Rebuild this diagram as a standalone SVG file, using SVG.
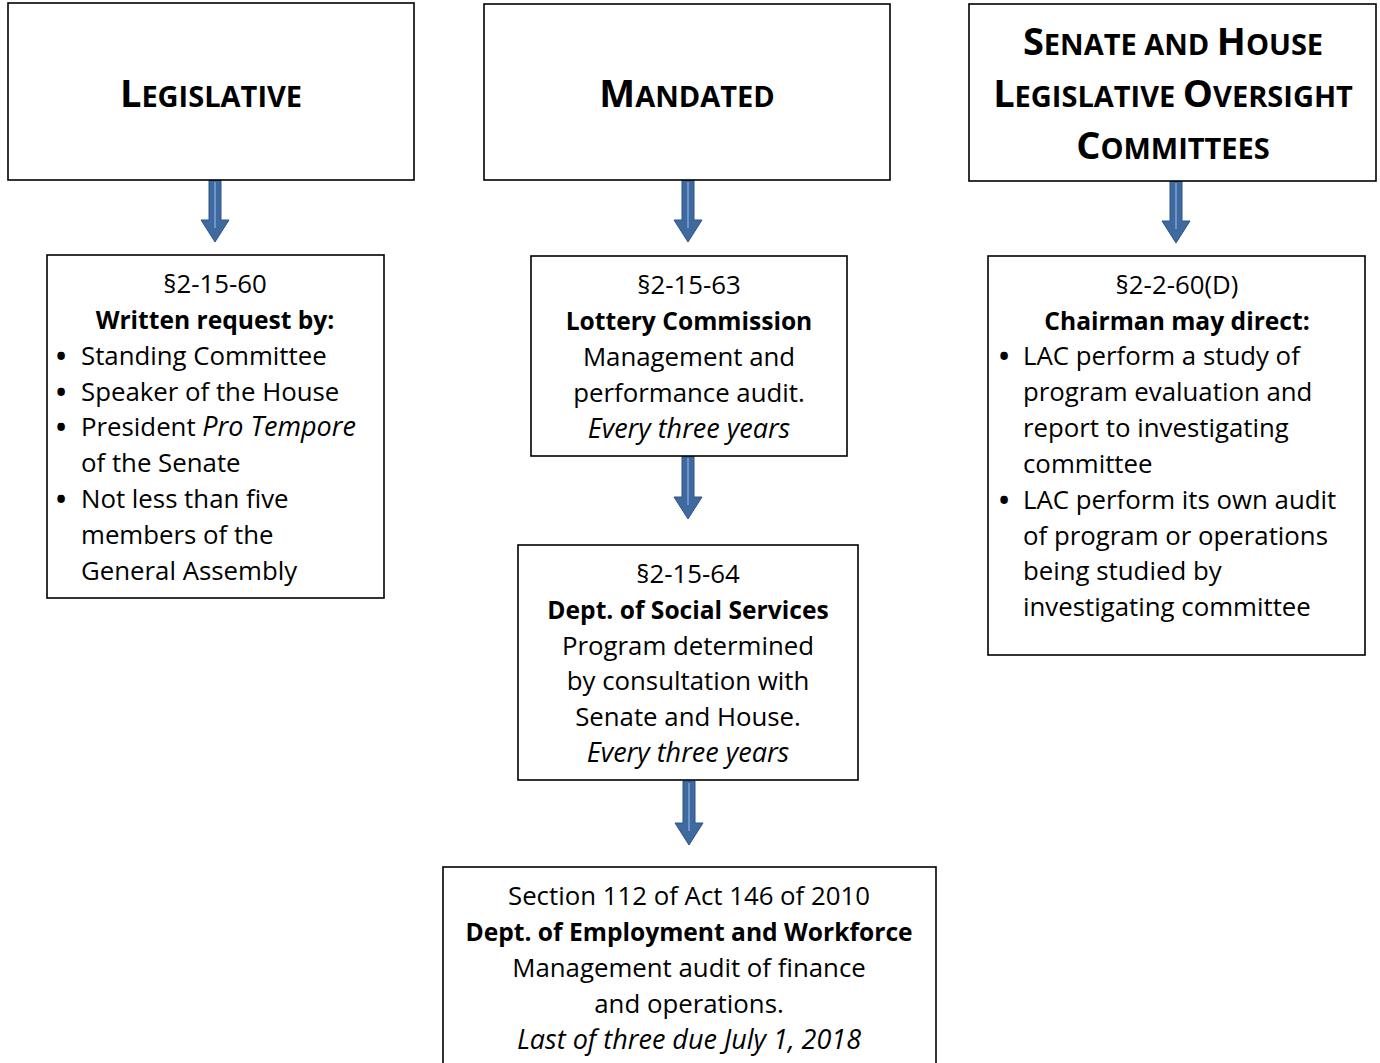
<svg xmlns="http://www.w3.org/2000/svg" width="1380" height="1063" viewBox="0 0 1380 1063">
<style>
.box{fill:#fff;stroke:#000;stroke-width:1.6}
text{font-family:"Open Sans","Liberation Sans",sans-serif;fill:#000}
.t{font-weight:bold;text-anchor:middle}
.big{font-size:38px}
.sm{font-size:29px}
.b{font-size:25.8px}
.c{text-anchor:middle}
.bo{font-weight:bold;font-size:24.6px}
.i{font-style:italic;font-size:27px}
.bu{font-size:27px;font-weight:bold}
.arrow{fill:#3f6aa0;stroke:#2f5485;stroke-width:1}
.hl{stroke:#6f95c8;stroke-width:2}
</style>
<rect width="1380" height="1063" fill="#fff"/>
<g id="connectors">
<g><path class="arrow" d="M209,180 H221 V220 H229 L215,242 L201,220 H209 Z"/><line class="hl" x1="215" y1="182" x2="215" y2="228"/></g>
<g><path class="arrow" d="M682,180 H694 V220 H702 L688,242 L674,220 H682 Z"/><line class="hl" x1="688" y1="182" x2="688" y2="228"/></g>
<g><path class="arrow" d="M1170,181 H1182 V221 H1190 L1176,243 L1162,221 H1170 Z"/><line class="hl" x1="1176" y1="183" x2="1176" y2="229"/></g>
<g><path class="arrow" d="M682,456 H694 V497 H702 L688,519 L674,497 H682 Z"/><line class="hl" x1="688" y1="458" x2="688" y2="505"/></g>
<g><path class="arrow" d="M683,781 H695 V823 H703 L689,845 L675,823 H683 Z"/><line class="hl" x1="689" y1="783" x2="689" y2="831"/></g>
</g>
<g id="legislative">
<rect class="box" x="8" y="3" width="406" height="177"/>
<text class="t" x="211" y="107"><tspan class="big">L</tspan><tspan class="sm">EGISLATIVE</tspan></text>
</g>
<g id="mandated">
<rect class="box" x="484" y="4" width="406" height="176"/>
<text class="t" x="687" y="107"><tspan class="big">M</tspan><tspan class="sm">ANDATED</tspan></text>
</g>
<g id="oversight">
<rect class="box" x="969" y="4" width="407" height="177"/>
<text class="t" x="1173" y="55"><tspan class="big">S</tspan><tspan class="sm">ENATE AND </tspan><tspan class="big">H</tspan><tspan class="sm">OUSE</tspan></text>
<text class="t" x="1173" y="107"><tspan class="big">L</tspan><tspan class="sm">EGISLATIVE </tspan><tspan class="big">O</tspan><tspan class="sm">VERSIGHT</tspan></text>
<text class="t" x="1173" y="159"><tspan class="big">C</tspan><tspan class="sm">OMMITTEES</tspan></text>
</g>
<g id="s2-15-60">
<rect class="box" x="47" y="255" width="337" height="343"/>
<text class="b c" x="215" y="293">§2-15-60</text>
<text class="b c bo" x="215" y="329">Written request by:</text>
<g class="b">
<text class="bu" x="56" y="366">•</text><text x="81" y="365">Standing Committee</text>
<text class="bu" x="56" y="402">•</text><text x="81" y="401">Speaker of the House</text>
<text class="bu" x="56" y="437">•</text><text x="81" y="436">President <tspan class="i">Pro Tempore</tspan></text>
<text x="81" y="472">of the Senate</text>
<text class="bu" x="56" y="509">•</text><text x="81" y="508">Not less than five</text>
<text x="81" y="544">members of the</text>
<text x="81" y="580">General Assembly</text>
</g>
</g>
<g id="s2-15-63">
<rect class="box" x="531" y="256" width="316" height="200"/>
<text class="b c" x="689" y="294">§2-15-63</text>
<text class="b c bo" x="689" y="330">Lottery Commission</text>
<text class="b c" x="689" y="366">Management and</text>
<text class="b c" x="689" y="402">performance audit.</text>
<text class="b c i" x="689" y="438">Every three years</text>
</g>
<g id="s2-15-64">
<rect class="box" x="518" y="545" width="340" height="235"/>
<text class="b c" x="688" y="583">§2-15-64</text>
<text class="b c bo" x="688" y="619">Dept. of Social Services</text>
<text class="b c" x="688" y="655">Program determined</text>
<text class="b c" x="688" y="690">by consultation with</text>
<text class="b c" x="688" y="726">Senate and House.</text>
<text class="b c i" x="688" y="762">Every three years</text>
</g>
<g id="act146">
<rect class="box" x="443" y="867" width="493" height="200"/>
<text class="b c" x="689" y="905">Section 112 of Act 146 of 2010</text>
<text class="b c bo" x="689" y="941">Dept. of Employment and Workforce</text>
<text class="b c" x="689" y="977">Management audit of finance</text>
<text class="b c" x="689" y="1013">and operations.</text>
<text class="b c i" x="689" y="1049">Last of three due July 1, 2018</text>
</g>
<g id="s2-2-60d">
<rect class="box" x="988" y="256" width="377" height="399"/>
<text class="b c" x="1177" y="294">§2-2-60(D)</text>
<text class="b c bo" x="1177" y="330">Chairman may direct:</text>
<g class="b">
<text class="bu" x="999" y="366">•</text><text x="1023" y="365">LAC perform a study of</text>
<text x="1023" y="401">program evaluation and</text>
<text x="1023" y="437">report to investigating</text>
<text x="1023" y="473">committee</text>
<text class="bu" x="999" y="510">•</text><text x="1023" y="509">LAC perform its own audit</text>
<text x="1023" y="545">of program or operations</text>
<text x="1023" y="580">being studied by</text>
<text x="1023" y="616">investigating committee</text>
</g>
</g>
</svg>
